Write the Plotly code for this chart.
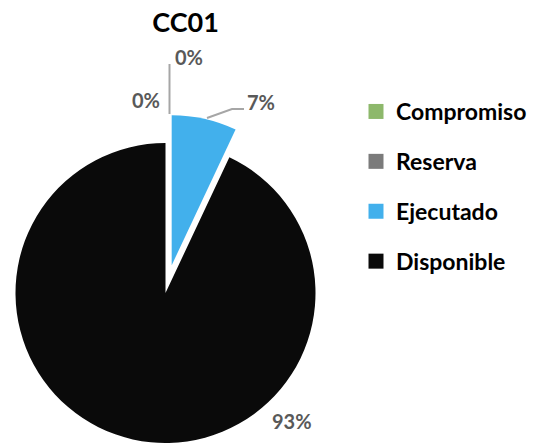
import math
import plotly.graph_objects as go

# ---- data ----
title_text = "CC01"
categories = ["Compromiso", "Reserva", "Ejecutado", "Disponible"]
values = [0, 0, 7, 93]
slice_colors = ["#8DB86B", "#7B7B7B", "#42B0EC", "#0A0A0A"]
pulled_category = "Ejecutado"

# ---- layout constants ----
W, H = 537, 443
CX, CY, R = 165.5, 293.0, 150.0   # pie centre/radius in px (from top-left)
PULL = 0.19
LABEL_FONT = dict(family="Lato", size=20, color="#595959", weight="bold")
LEADER_COLOR = "#A6A6A6"

total = sum(values)
pct_text = [f"{round(100 * v / total)}%" for v in values]


def domain_for(cx, cy, r):
    return dict(x=[(cx - r) / W, (cx + r) / W],
                y=[max(0.0, (H - cy - r) / H), (H - cy + r) / H])


pi = categories.index(pulled_category)
start_frac = sum(values[:pi]) / total
mid_angle = 2 * math.pi * (start_frac + values[pi] / total / 2)
dx = PULL * R * math.sin(mid_angle)
dy = -PULL * R * math.cos(mid_angle)

transparent = "rgba(0,0,0,0)"
colors_main = [transparent if c == pulled_category else col
               for c, col in zip(categories, slice_colors)]
colors_pulled = [col if c == pulled_category else transparent
                 for c, col in zip(categories, slice_colors)]

fig = go.Figure()

common = dict(labels=categories, values=values, sort=False, direction="clockwise",
              rotation=0, textinfo="none", hoverinfo="label+percent",
              showlegend=False)

fig.add_trace(go.Pie(**common, domain=domain_for(CX, CY, R),
                     marker=dict(colors=colors_main, line=dict(width=0))))
fig.add_trace(go.Pie(**common, domain=domain_for(CX + dx, CY + dy, R),
                     marker=dict(colors=colors_pulled, line=dict(width=0))))

# legend entries (square markers), one group each so spacing can be set
for i, (c, col) in enumerate(zip(categories, slice_colors)):
    fig.add_trace(go.Scatter(x=[None], y=[None], mode="markers", name=c,
                             legendgroup=c,
                             marker=dict(symbol="square", size=15, color=col,
                                         line=dict(width=0))))

# data labels (text from data)
label_pos = [(146, 100), (188.5, 57), (261, 102), (292, 421)]
for (lx, ly), t in zip(label_pos, pct_text):
    fig.add_annotation(x=lx / W, y=(H - ly) / H, xref="paper", yref="paper",
                       text=t, showarrow=False, font=LABEL_FONT,
                       xanchor="center", yanchor="middle")

# leader lines
def px_line(pts):
    path = "M " + " L ".join(f"{x / W} {(H - y) / H}" for x, y in pts)
    fig.add_shape(type="path", path=path, xref="paper", yref="paper",
                  line=dict(color=LEADER_COLOR, width=2))

px_line([(169.5, 114), (169.5, 64)])
px_line([(207, 118), (232, 109), (244, 109)])

fig.update_layout(
    width=W, height=H,
    margin=dict(l=0, r=0, t=0, b=0),
    paper_bgcolor="white", plot_bgcolor="white",
    title=dict(text=title_text, x=185.5 / W, xanchor="center",
               y=(H - 23) / H, yanchor="middle",
               font=dict(family="Lato", size=27, color="black", weight="bold")),
    xaxis=dict(visible=False), yaxis=dict(visible=False),
    legend=dict(x=356 / W, xanchor="left", y=(H - 90) / H, yanchor="top",
                traceorder="grouped", tracegroupgap=17, itemwidth=30,
                font=dict(family="Lato", size=23, color="black", weight="bold"),
                bgcolor="rgba(0,0,0,0)"),
)

fig.write_html("out.html",
               config={"displayModeBar": False},
               post_script="document.body.style.margin='0';"
                           "document.body.style.overflow='hidden';")
